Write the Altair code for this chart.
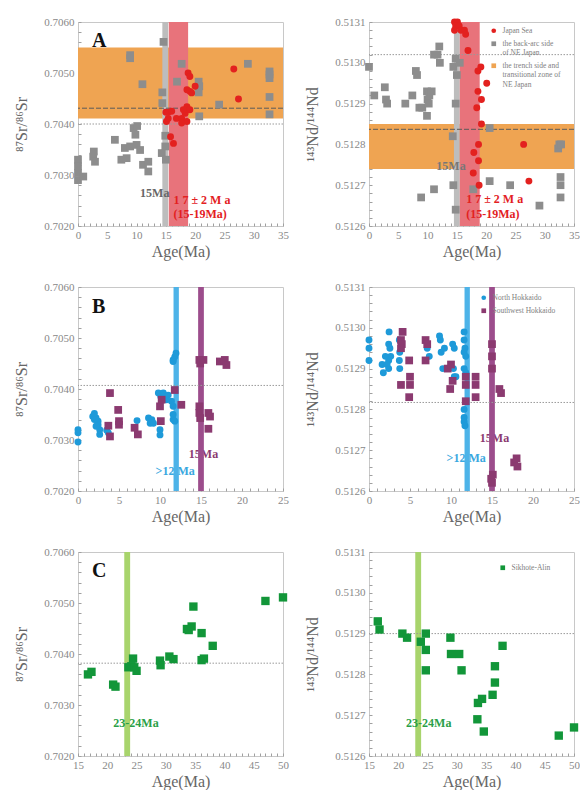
import altair as alt
import pandas as pd

SERIF = "Liberation Serif"
W, H = 205, 204

# ---------------- Panel A (NE Japan / Japan Sea) ----------------
a_sr_gray_age = [0, 0, 0, 0, 0.9, 2.7, 2.6, 2.9, 6.3, 7.4, 8.3, 8.0, 8.9, 9.5, 9.8, 10.1, 10.0, 10.6,
                 11.1, 12.0, 12.0, 8.9, 8.9, 11.0, 14.6, 14.4, 14.4, 14.9, 14.9, 14.3, 15.0,
                 17.7, 16.9, 20.6, 20.7, 20.6, 20.7, 24.1, 29.0, 32.7, 32.7, 32.7, 32.7, 32.7]
a_sr_gray = [0.7033, 0.70317, 0.70304, 0.7029, 0.70297, 0.70346, 0.70336, 0.70326, 0.70369, 0.7033,
             0.70333, 0.70353, 0.70356, 0.70392, 0.70379, 0.70396, 0.70359, 0.70349, 0.7032, 0.70326,
             0.70307, 0.70529, 0.70535, 0.70478, 0.70561, 0.70462, 0.70441, 0.70377, 0.70356, 0.70343,
             0.7033, 0.70518, 0.70483, 0.70483, 0.70474, 0.70462, 0.70415, 0.70438, 0.70518, 0.70503,
             0.70497, 0.7049, 0.70453, 0.70419]
a_sr_red_age = [15.0, 15.4, 15.1, 15.4, 15.8, 16.3, 16.8, 17.7, 18.3, 18.6, 18.6, 19.1, 19.1, 18.8,
                19.1, 19.4, 18.6, 20.0, 26.6, 27.4, 18.0, 17.7, 16.0]
a_sr_red = [0.70423, 0.70423, 0.70405, 0.70411, 0.70375, 0.70362, 0.70411, 0.70411, 0.70421, 0.70434,
            0.70405, 0.70428, 0.70464, 0.705, 0.70493, 0.70461, 0.70467, 0.70474, 0.70508, 0.70449,
            0.70428, 0.70402, 0.70425]

a_nd_gray_age = [0, 0.9, 2.7, 2.9, 3.1, 6.2, 7.4, 8.0, 8.2, 8.6, 9.1, 9.9, 10.0, 10.2, 10.3, 9.9, 10.7,
                 8.9, 11.1, 11.1, 11.7, 12.0, 12.1, 14.4, 14.8, 15.0, 15.5, 14.8, 14.3, 14.4, 14.8,
                 17.8, 20.6, 20.6, 24.1, 29.1, 32.3, 32.5, 32.8, 32.7, 32.7, 32.7]
a_nd_gray = [0.51299, 0.51292, 0.51294, 0.51291, 0.5129, 0.5129, 0.51292, 0.51298, 0.51297, 0.51289,
             0.51289, 0.51293, 0.51291, 0.5129, 0.51292, 0.51287, 0.51293, 0.51267, 0.51269, 0.51302,
             0.51302, 0.51304, 0.513, 0.51299, 0.51301, 0.51297, 0.513, 0.5129, 0.51282, 0.5127,
             0.51264, 0.51269, 0.51284, 0.51271, 0.5127, 0.51265, 0.51279, 0.5128, 0.5128, 0.51272,
             0.5127, 0.51267]
a_nd_red_age = [14.6, 15.1, 14.8, 14.6, 15.4, 15.7, 16.3, 16.5, 16.9, 19.1, 18.6, 20.1, 18.6, 19.2,
                18.4, 19.2, 18.7, 17.9, 18.7, 17.8, 18.8, 26.4, 27.3]
a_nd_red = [0.5131, 0.5131, 0.51309, 0.51308, 0.51309, 0.51308, 0.51308, 0.51307, 0.51303, 0.51299,
            0.51298, 0.51295, 0.51293, 0.51291, 0.51289, 0.51285, 0.5128, 0.51278, 0.51276, 0.51273,
            0.5127, 0.5128, 0.51271]

# ---------------- Panel B (Hokkaido) ----------------
b_sr_blue_age = [0, 0, 0, 1.8, 2.0, 2.2, 2.45, 2.45, 2.65, 2.65, 2.2, 2.0, 3.5, 3.7, 7.2, 8.6, 8.8, 9.0,
                 9.2, 9.8, 10.1, 10.4, 10.0, 10.0, 11.6, 11.8, 11.95, 11.6, 11.4, 11.6, 11.6, 11.6,
                 11.8, 10.8, 11.0]
b_sr_blue = [0.7032, 0.70314, 0.70296, 0.70346, 0.7034, 0.70343, 0.70337, 0.7033, 0.7032, 0.70311,
             0.70327, 0.70352, 0.70319, 0.70314, 0.70338, 0.70343, 0.70333, 0.7034, 0.70333, 0.70392,
             0.70385, 0.70392, 0.7032, 0.7031, 0.70457, 0.70463, 0.7047, 0.70454, 0.70376, 0.70366,
             0.7035, 0.7034, 0.70337, 0.70379, 0.70388]
b_sr_purple_age = [3.9, 3.7, 3.9, 4.9, 5.0, 5.0, 6.9, 7.3, 10.0, 10.2, 10.1, 11.8, 12.6, 14.8, 14.9,
                   15.3, 14.8, 14.8, 14.9, 15.9, 16.1, 15.9, 17.3, 17.9, 18.1]
b_sr_purple = [0.70392, 0.70328, 0.70307, 0.70359, 0.70337, 0.7033, 0.70324, 0.70311, 0.70366,
               0.70379, 0.70337, 0.70398, 0.70369, 0.70457, 0.7045, 0.70457, 0.70366, 0.70353,
               0.70343, 0.70353, 0.70346, 0.70322, 0.70454, 0.70457, 0.70447]

b_nd_blue_age = [0, 0, 0, 1.6, 1.75, 2.45, 2.4, 2.55, 2.65, 2.4, 2.4, 2.0, 2.2, 3.7, 3.75, 3.7, 3.75,
                 7.1, 7.35, 8.6, 8.7, 8.8, 9.0, 9.2, 10.2, 10.4, 10.3, 10.4, 10.6, 11.6, 11.6, 11.7,
                 11.6, 11.8, 11.6, 11.6, 11.6, 11.6, 11.7, 11.8]
b_nd_blue = [0.51297, 0.51295, 0.51292, 0.51291, 0.51289, 0.51299, 0.51296, 0.51295, 0.51293,
             0.51292, 0.5129, 0.51293, 0.51291, 0.51297, 0.51294, 0.51292, 0.5129, 0.51295, 0.51293,
             0.51298, 0.51297, 0.51294, 0.5129, 0.51295, 0.51296, 0.51295, 0.5129, 0.51288, 0.51288,
             0.51299, 0.51297, 0.51295, 0.51294, 0.51293, 0.5129, 0.5128, 0.51278, 0.51277, 0.51276,
             0.51289]
b_nd_purple_age = [3.9, 4.1, 4.0, 3.9, 3.9, 4.9, 5.0, 5.0, 4.9, 6.9, 7.1, 6.9, 9.6, 10.0, 9.9, 10.2,
                   11.8, 11.8, 11.8, 13.0, 13.0, 13.0, 15.0, 15.0, 15.0, 15.9, 16.1, 14.9, 15.1, 15.0,
                   17.7, 18.0, 18.1]
b_nd_purple = [0.51297, 0.51299, 0.51296, 0.51295, 0.51286, 0.51292, 0.51288, 0.51286, 0.51283,
               0.51297, 0.51296, 0.51292, 0.5129, 0.51291, 0.51285, 0.51287, 0.51288, 0.51286,
               0.51282, 0.51288, 0.51286, 0.51283, 0.51296, 0.51293, 0.5129, 0.51285, 0.51284,
               0.51263, 0.51264, 0.51262, 0.51267, 0.51268, 0.51266]

# ---------------- Panel C (Sikhote-Alin) ----------------
c_sr_age = [16.7, 17.3, 21.0, 21.4, 23.6, 24.1, 24.6, 24.4, 25.0, 29.0, 29.1, 30.6, 31.3, 33.6, 33.9,
            34.4, 34.7, 36.1, 36.1, 36.5, 38.0, 47.0, 50.0]
c_sr = [0.7036, 0.70365, 0.7034, 0.70336, 0.70374, 0.70376, 0.70374, 0.70391, 0.70367, 0.70387,
        0.70378, 0.70395, 0.7039, 0.70449, 0.70447, 0.70454, 0.70493, 0.70441, 0.70388, 0.70391,
        0.70416, 0.70504, 0.70511]
c_nd_age = [16.5, 16.8, 20.7, 21.5, 23.85, 24.7, 24.7, 24.7, 28.9, 29.0, 30.4, 30.8, 33.6, 34.3, 33.5,
            34.6, 36.1, 36.5, 36.5, 37.8, 47.4, 50.0]
c_nd = [0.51293, 0.51291, 0.5129, 0.51289, 0.51288, 0.5129, 0.51286, 0.51281, 0.51289, 0.51285,
        0.51285, 0.51281, 0.51273, 0.51274, 0.51269, 0.51266, 0.51275, 0.51278, 0.51282, 0.51287,
        0.51265, 0.51267]

# reference lines, bands and annotations
sr_dotted = {"A": 0.70400, "B": 0.70407, "C": 0.70382}
nd_dotted = {"A": 0.51302, "B": 0.512817, "C": 0.51290}
a_sr_dashed, a_nd_dashed = 0.70431, 0.512837
a_sr_orange = [0.70411, 0.70550]
a_nd_orange = [0.51274, 0.51285]

GRAY, RED, BLUE, PURPLE, GREEN = "#8d8d8d", "#e3211f", "#1e9ad9", "#8b3a70", "#129639"
ORANGE = "#efa452"

A_GROUPS = ["Japan Sea", "the back-arc side|of NE Japan", "the trench side and|transitional zone of|NE Japan"]
B_GROUPS = ["North Hokkaido", "Southwest Hokkaido"]
C_GROUPS = ["Sikhote-Alin"]

AX_COMMON = dict(labelOverlap=False, labelFlush=False, labelBound=False, domain=False, grid=False,
                 tickColor="#a0a0a0", tickSize=3, offset=-3,
                 labelFont=SERIF, labelFontSize=11, labelColor="#888888",
                 titleFont=SERIF, titleFontSize=16, titleColor="#666666", titleFontWeight="normal")


def X(lo, hi, field="age"):
    return alt.X(f"{field}:Q", scale=alt.Scale(domain=[lo, hi], nice=False, zero=False),
                 axis=alt.Axis(title="Age(Ma)", values=list(range(lo, hi + 1)),
                               labelExpr="datum.value % 5 == 0 ? format(datum.value, 'd') : ''",
                               titlePadding=3, labelPadding=3, **AX_COMMON))


def Y(kind, field="val"):
    if kind == "sr":
        lo, hi, step, mult, title = 0.7020, 0.7060, 0.0002, 1000, "⁸⁷Sr/⁸⁶Sr"
    else:
        lo, hi, step, mult, title = 0.5126, 0.5131, 0.00002, 10000, "¹⁴³Nd/¹⁴⁴Nd"
    n = int(round((hi - lo) / step))
    vals = [round(lo + i * step, 6) for i in range(n + 1)]
    test = f"abs(datum.value*{mult} - round(datum.value*{mult})) < 0.001"
    return alt.Y(f"{field}:Q", scale=alt.Scale(domain=[lo, hi], nice=False, zero=False),
                 axis=alt.Axis(title=title, values=vals,
                               labelExpr=f"({test}) ? format(datum.value, '.4f') : ''",
                               minExtent=38, maxExtent=38, titlePadding=14, labelPadding=4,
                               **AX_COMMON))


def panel(xlo, xhi, kind, series, groups, colors, shapes, vbands, dotted, dashed=None,
          orange=None, texts=(), letter=None, legend=None, text_over_bands=True):
    layers = []
    if orange is not None:
        d = pd.DataFrame({"v0": [orange[0]], "v1": [orange[1]]})
        layers.append(alt.Chart(d).mark_rect(color=ORANGE).encode(
            y=Y(kind, "v0"), y2="v1:Q", x=alt.value(0), x2=alt.value("width")))
    text_layers = []
    for (lab, tx, ty, col, align, size, weight) in texts:
        d = pd.DataFrame({"age": [tx], "val": [ty], "lab": [lab]})
        text_layers.append(alt.Chart(d).mark_text(
            color=col, align=align, baseline="middle", font=SERIF, fontSize=size,
            fontWeight=weight).encode(x=X(xlo, xhi), y=Y(kind), text="lab:N"))
    if not text_over_bands:
        layers += text_layers
    for (lohi, col) in vbands:
        d = pd.DataFrame({"a0": [lohi[0]], "a1": [lohi[1]]})
        layers.append(alt.Chart(d).mark_rect(color=col).encode(
            x=X(xlo, xhi, "a0"), x2="a1:Q", y=alt.value(0), y2=alt.value("height")))
    d = pd.DataFrame({"val": [dotted]})
    layers.append(alt.Chart(d).mark_rule(color="#9a9a9a", strokeDash=[1.5, 1.5], strokeWidth=1)
                  .encode(y=Y(kind)))
    if dashed is not None:
        d = pd.DataFrame({"val": [dashed]})
        layers.append(alt.Chart(d).mark_rule(color="#5a5a5a", strokeDash=[5, 2], strokeWidth=1)
                      .encode(y=Y(kind)))
    if text_over_bands:
        layers += text_layers
    leg = None
    if legend is not None:
        lx, ly = legend
        leg = alt.Legend(orient="none", legendX=lx, legendY=ly, title=None, padding=0,
                         labelFont=SERIF, labelFontSize=7.5, labelColor="#808080",
                         labelExpr="split(datum.label, '|')", labelLimit=200,
                         symbolSize=22, symbolStrokeWidth=0, rowPadding=4, labelOffset=5)
    for (ages, vals, grp, size) in series:
        d = pd.DataFrame({"age": ages, "val": vals, "grp": [grp] * len(ages)})
        layers.append(alt.Chart(d).mark_point(filled=True, opacity=1, size=size, strokeWidth=0).encode(
            x=X(xlo, xhi), y=Y(kind),
            color=alt.Color("grp:N", scale=alt.Scale(domain=groups, range=colors), legend=leg),
            shape=alt.Shape("grp:N", scale=alt.Scale(domain=groups, range=shapes), legend=leg)))
    if letter is not None:
        lab, tx, ty = letter
        d = pd.DataFrame({"age": [tx], "val": [ty], "lab": [lab]})
        layers.append(alt.Chart(d).mark_text(align="left", baseline="top", font=SERIF, fontSize=20,
                                             fontWeight="bold", color="#111").encode(
            x=X(xlo, xhi), y=Y(kind), text="lab:N"))
    return alt.layer(*layers).properties(width=W, height=H)


a_colors = [RED, GRAY, ORANGE]
a_shapes = ["circle", "square", "square"]
red_band, gray_band = "#e8737b", "#bdbdbd"

A1 = panel(0, 35, "sr",
           [(a_sr_gray_age, a_sr_gray, A_GROUPS[1], 60),
            (a_sr_red_age, a_sr_red, A_GROUPS[0], 48)],
           A_GROUPS, a_colors, a_shapes,
           [([14.4, 15.4], gray_band), ([15.5, 18.8], red_band)],
           sr_dotted["A"], a_sr_dashed, a_sr_orange,
           texts=[("15Ma", 13.1, 0.70265, "#666", "center", 12, "bold"),
                  ("1 7 ± 2 M a", 16.3, 0.70251, "#e3211f", "left", 12, "bold"),
                  ("(15-19Ma)", 16.3, 0.70223, "#e3211f", "left", 12, "bold")],
           letter=("A", 2.4, 0.70583))
A2 = panel(0, 35, "nd",
           [(a_nd_gray_age, a_nd_gray, A_GROUPS[1], 60),
            (a_nd_red_age, a_nd_red, A_GROUPS[0], 48)],
           A_GROUPS, a_colors, a_shapes,
           [([14.5, 15.5], gray_band), ([15.5, 18.9], red_band)],
           nd_dotted["A"], a_nd_dashed, a_nd_orange,
           texts=[("15Ma", 14.0, 0.512746, "#777", "center", 12, "bold"),
                  ("1 7 ± 2 M a", 16.6, 0.512665, "#e3211f", "left", 12, "bold"),
                  ("(15-19Ma)", 16.6, 0.51263, "#e3211f", "left", 12, "bold")],
           legend=(121, 5))

b_colors = [BLUE, PURPLE]
b_shapes = ["circle", "square"]
B1 = panel(0, 25, "sr",
           [(b_sr_blue_age, b_sr_blue, B_GROUPS[0], 48),
            (b_sr_purple_age, b_sr_purple, B_GROUPS[1], 60)],
           B_GROUPS, b_colors, b_shapes,
           [([11.65, 12.3], "#4db3e8"), ([14.65, 15.35], "#9c4d8c")],
           sr_dotted["B"],
           texts=[(">12 Ma", 11.85, 0.70239, "#3aa8e0", "center", 12, "bold"),
                  ("15Ma", 15.3, 0.70273, "#8b3a70", "center", 12, "bold")],
           letter=("B", 1.7, 0.70580), text_over_bands=False)
B2 = panel(0, 25, "nd",
           [(b_nd_blue_age, b_nd_blue, B_GROUPS[0], 48),
            (b_nd_purple_age, b_nd_purple, B_GROUPS[1], 60)],
           B_GROUPS, b_colors, b_shapes,
           [([11.65, 12.3], "#4db3e8"), ([14.65, 15.35], "#9c4d8c")],
           nd_dotted["B"],
           texts=[(">12 Ma", 11.85, 0.51268, "#3aa8e0", "center", 12, "bold"),
                  ("15Ma", 15.3, 0.51273, "#8b3a70", "center", 12, "bold")],
           legend=(111, 7), text_over_bands=False)

C1 = panel(15, 50, "sr",
           [(c_sr_age, c_sr, C_GROUPS[0], 70)],
           C_GROUPS, [GREEN], ["square"],
           [([22.9, 23.9], "#a8d46c")], sr_dotted["C"],
           texts=[("23-24Ma", 24.9, 0.70264, "#2a9f48", "center", 12, "bold")],
           letter=("C", 17.4, 0.70582))
C2 = panel(15, 50, "nd",
           [(c_nd_age, c_nd, C_GROUPS[0], 70)],
           C_GROUPS, [GREEN], ["square"],
           [([22.9, 23.9], "#a8d46c")], nd_dotted["C"],
           texts=[("23-24Ma", 25.2, 0.51268, "#2a9f48", "center", 12, "bold")],
           legend=(130, 12))

chart = alt.concat(A1, A2, B1, B2, C1, C2, columns=2,
                   spacing={"row": 20, "column": 14}).resolve_scale(
    x="independent", y="independent", color="independent", shape="independent"
).resolve_legend(color="independent", shape="independent").properties(
    padding={"left": 12, "top": 15, "right": 0, "bottom": 0}, background="white"
).configure_view(stroke="#c8c8c8", strokeWidth=1)

chart.save("out.html", embed_options={"renderer": "svg", "actions": False})
